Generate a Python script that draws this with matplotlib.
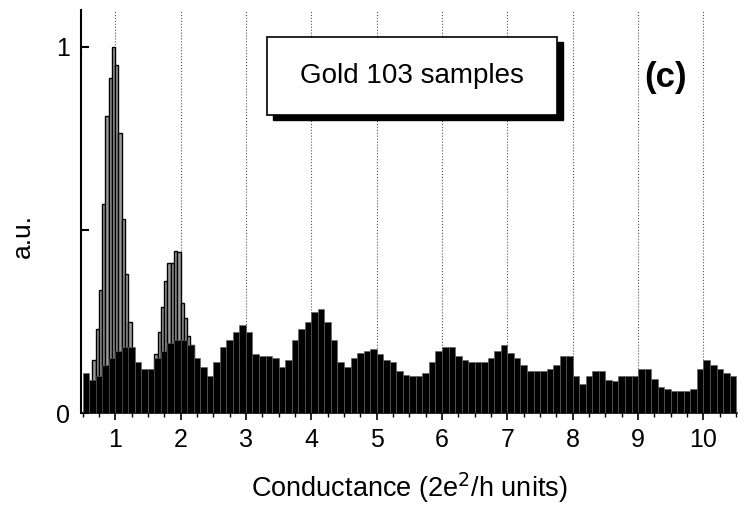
import matplotlib
matplotlib.use("Agg")
import matplotlib.pyplot as plt
from matplotlib.patches import Rectangle
import numpy as np

plt.rcParams['font.family'] = ['Liberation Sans', 'DejaVu Sans']

# overall histogram envelope, bin width 0.1 (centres 0.55 ... 10.45)
env_centres = np.arange(0.55, 10.5, 0.1)
env_heights = [0.11, 0.09, 0.10, 0.13, 0.15, 0.17, 0.18, 0.18, 0.14, 0.12,
               0.12, 0.15, 0.17, 0.19, 0.20, 0.20, 0.185, 0.15, 0.125, 0.10,
               0.14, 0.18, 0.20, 0.22, 0.24, 0.22, 0.16, 0.155, 0.155, 0.15,
               0.125, 0.145, 0.20, 0.23, 0.25, 0.275, 0.285, 0.25, 0.20, 0.14,
               0.125, 0.15, 0.165, 0.17, 0.175, 0.16, 0.145, 0.14, 0.115, 0.105,
               0.10, 0.10, 0.11, 0.14, 0.17, 0.18, 0.18, 0.155, 0.145, 0.14,
               0.14, 0.14, 0.15, 0.17, 0.185, 0.165, 0.15, 0.13, 0.115, 0.115,
               0.115, 0.12, 0.13, 0.155, 0.155, 0.10, 0.08, 0.10, 0.115, 0.115,
               0.09, 0.088, 0.10, 0.10, 0.10, 0.12, 0.12, 0.094, 0.07, 0.065,
               0.06, 0.06, 0.06, 0.065, 0.12, 0.145, 0.13, 0.12, 0.11, 0.10]

# the tall peaks near 1 and 2, bin width 0.05
peak_centres = [0.675, 0.725, 0.775, 0.825, 0.875, 0.925, 0.975, 1.025,
                1.075, 1.125, 1.175, 1.225,
                1.625, 1.675, 1.725, 1.775, 1.825, 1.875, 1.925, 1.975,
                2.025, 2.075, 2.125, 2.175]
peak_heights = [0.145, 0.23, 0.336, 0.57, 0.81, 0.915, 1.0, 0.95,
                0.765, 0.53, 0.38, 0.25,
                0.16, 0.22, 0.29, 0.36, 0.41, 0.41, 0.443, 0.44,
                0.30, 0.26, 0.21, 0.185]

fig = plt.figure(figsize=(7.45, 5.05), dpi=100)
ax = fig.add_axes([0.109, 0.182, 0.880, 0.798])

ax.bar(peak_centres, peak_heights, width=0.05, facecolor='#9a9a9a',
       edgecolor='black', linewidth=1.0, zorder=2)
ax.bar(env_centres, env_heights, width=0.1, facecolor='black',
       edgecolor='#606060', linewidth=0.4, zorder=3)

for g in range(1, 11):
    ax.axvline(g, color='#555555', linestyle=':', linewidth=0.8, zorder=1)

ax.set_xlim(0.48, 10.51)
ax.set_ylim(0, 1.10)
ax.set_xticks(range(1, 11))
ax.set_xticks(np.arange(0.5, 10.51, 0.25), minor=True)
ax.set_yticks([0, 0.5, 1])
ax.set_yticklabels(['0', '', '1'])
ax.tick_params(axis='x', direction='out', length=5, width=1.2, labelsize=18, pad=6)
ax.tick_params(axis='x', which='minor', direction='out', length=3, width=1)
ax.tick_params(axis='y', direction='in', length=6, width=1.5, labelsize=18, pad=8)
for side in ['top', 'right']:
    ax.spines[side].set_visible(False)
ax.spines['left'].set_linewidth(1.5)
ax.spines['bottom'].set_linewidth(1.2)

ax.set_xlabel('Conductance (2e$^2$/h units)', fontsize=19.5, labelpad=13)
ax.set_ylabel('a.u.', fontsize=19)
ax.yaxis.set_label_coords(-0.07, 0.44)

# label box with drop shadow
fig.patches.append(Rectangle((273/745, 1 - 120/505), 290/745, 78/505,
                             transform=fig.transFigure, facecolor='black',
                             edgecolor='black', zorder=5))
fig.patches.append(Rectangle((267/745, 1 - 115/505), 290/745, 78/505,
                             transform=fig.transFigure, facecolor='white',
                             edgecolor='black', linewidth=1.2, zorder=6))
fig.text(412/745, 1 - 76/505, 'Gold 103 samples', fontsize=20,
         ha='center', va='center', zorder=7)
fig.text(666/745, 1 - 77/505, '(c)', fontsize=25, fontweight='bold',
         ha='center', va='center', zorder=7)

fig.savefig('out.png', dpi=100)
